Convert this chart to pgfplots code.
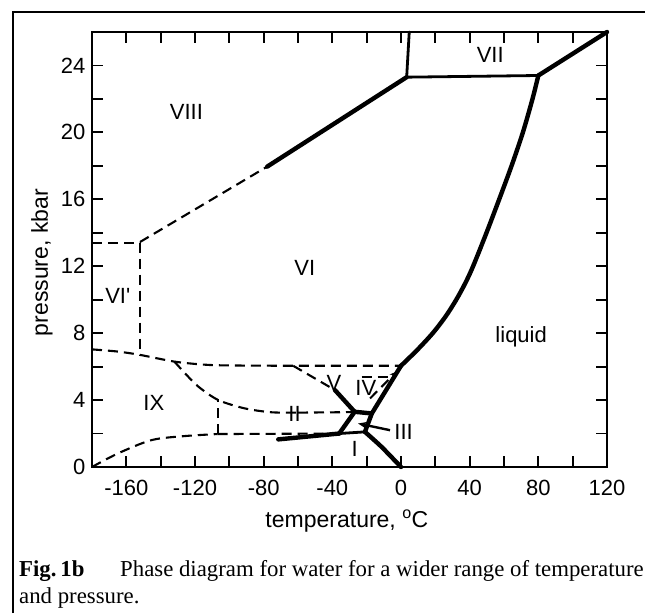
\documentclass[border=0pt]{standalone}
\usepackage{fontspec}
\setmainfont{Liberation Sans}
\newfontfamily\serifcap{Liberation Serif}
\usepackage{pgfplots}
\pgfplotsset{compat=1.18}
\usetikzlibrary{arrows.meta}

\begin{document}
\begin{tikzpicture}[x=1pt,y=1pt]
\useasboundingbox (0,0) rectangle (645,613);
\draw[line width=2.2pt] (13,0) -- (13,601) -- (645,601);
\begin{axis}[
  at={(92pt,146pt)}, anchor=south west,
  scale only axis, width=515pt, height=435pt,
  xmin=-180, xmax=120, ymin=0, ymax=26,
  xtick={-160,-120,...,120}, minor xtick={-180,-140,...,100},
  ytick={0,4,...,24}, minor ytick={2,6,...,26},
  tick align=inside, tick pos=both,
  major tick length=11pt, minor tick length=11pt,
  every tick/.append style={line width=1.8pt, black},
  axis line style={line width=2.2pt},
  ticklabel style={font=\fontsize{22}{22}\selectfont},
  /pgf/number format/assume math mode=true,
  xticklabel style={yshift=-10pt},
  yticklabel style={xshift=-3pt},
  xlabel={temperature, \textsuperscript{o}C},
  ylabel={pressure, kbar},
  label style={font=\fontsize{23}{23}\selectfont},
  xlabel style={at={(axis description cs:0.495,-0.125)}, anchor=center},
  ylabel style={at={(axis description cs:-0.097,0.47)}, anchor=center},
  clip=false,
  thickline/.style={black, line width=4.4pt, line cap=round, line join=round},
  thinline/.style={black, line width=2.8pt, line cap=round, line join=round},
  dline/.style={black, line width=2.1pt, dash pattern=on 10pt off 6pt},
]
% ---- solid boundaries ----
\addplot[thickline] coordinates {(-78,17.95) (3.3,23.3)};
\addplot[thinline] coordinates {(3.3,23.3) (4.8,26)};
\addplot[thinline] coordinates {(3.3,23.3) (80,23.4)};
\addplot[thickline] coordinates {(80,23.4) (120,26)};
\addplot[thickline, smooth, tension=0.5] coordinates {
  (80,23.4) (76.6,22) (71,20) (64.4,18) (57.2,16) (49.8,14) (42,12)
  (37.5,11) (32.2,10) (26,9) (18.5,8) (9.5,7) (0,6.05)};
\addplot[thickline] coordinates {(0,6.05) (-17,3.2) (-21,2.1)};
\addplot[thickline, smooth, tension=0.4] coordinates {(-21,2.1) (-11.3,1.2) (0,0)};
\addplot[thickline] coordinates {(-27,3.3) (-17,3.2)};
\addplot[thickline] coordinates {(-27,3.3) (-36,2.0)};
\addplot[thinline] coordinates {(-36,2.0) (-21,2.1)};
\addplot[thickline] coordinates {(-71.5,1.65) (-36,2.0)};
\addplot[thickline] coordinates {(-27,3.3) (-38.5,4.6)};
% ---- dashed boundaries ----
\addplot[dline] coordinates {(-152,13.45) (-78,17.95)};
\addplot[dline] coordinates {(-180,13.4) (-152,13.4) (-152,6.7)};
\addplot[dline, smooth, tension=0.5] coordinates {
  (-180,7.03) (-165,6.9) (-152,6.7) (-132,6.3) (-115,6.12) (-100,6.07) (-60,6.05) (0,6.05)};
\addplot[dline] coordinates {(-62.8,6.05) (-38.5,4.6)};
\addplot[dline, smooth, tension=0.5] coordinates {
  (-132,6.3) (-125.8,5.6) (-118,4.8) (-106.4,4.0) (-90.9,3.5) (-75.3,3.27) (-60,3.25)};
\addplot[dline] coordinates {(-60,3.25) (-27,3.28)};
\addplot[dline] coordinates {(-106.8,1.97) (-106.8,4.05)};
\addplot[dline, smooth, tension=0.5] coordinates {
  (-180,0) (-164.7,0.82) (-145.2,1.61) (-125.8,1.85) (-106.8,1.97)};
\addplot[dline] coordinates {(-106.8,1.97) (-36,2.0)};
\addplot[dline] coordinates {(-23,5.4) (-5.4,5.4)};
\addplot[dline, -{Stealth[length=7pt,width=6pt]}] coordinates {(-18,4.1) (-2.5,5.7)};
\addplot[black, line width=2.4pt, -{Stealth[length=9pt,width=7pt]}] coordinates {(-6.4,2.2) (-25,2.6)};
% ---- labels ----
\begin{scope}[every node/.style={font=\fontsize{22}{22}\selectfont, inner sep=0pt}]
\node at (axis cs:-125,21.2) {VIII};
\node at (axis cs:52,24.6) {VII};
\node at (axis cs:-56,11.9) {VI};
\node at (axis cs:-165,10.2) {VI\textquotesingle};
\node at (axis cs:-144,3.8) {IX};
\node at (axis cs:-62,3.2) {II};
\node at (axis cs:-39,5.0) {V};
\node at (axis cs:-20.5,4.7) {IV};
\node at (axis cs:1.5,2.1) {III};
\node at (axis cs:-27,1.1) {I};
\node at (axis cs:70,7.8) {liquid};
\end{scope}
\end{axis}
\node[anchor=base west, inner sep=0pt, font=\serifcap\bfseries\fontsize{22.8}{22.8}\selectfont] at (19,37) {Fig.\,1b};
\node[anchor=base west, inner sep=0pt, font=\serifcap\fontsize{22.8}{22.8}\selectfont] at (120,37) {Phase diagram for water for a wider range of temperature};
\node[anchor=base west, inner sep=0pt, font=\serifcap\fontsize{22.8}{22.8}\selectfont] at (19,10) {and pressure.};
\end{tikzpicture}
\end{document}
